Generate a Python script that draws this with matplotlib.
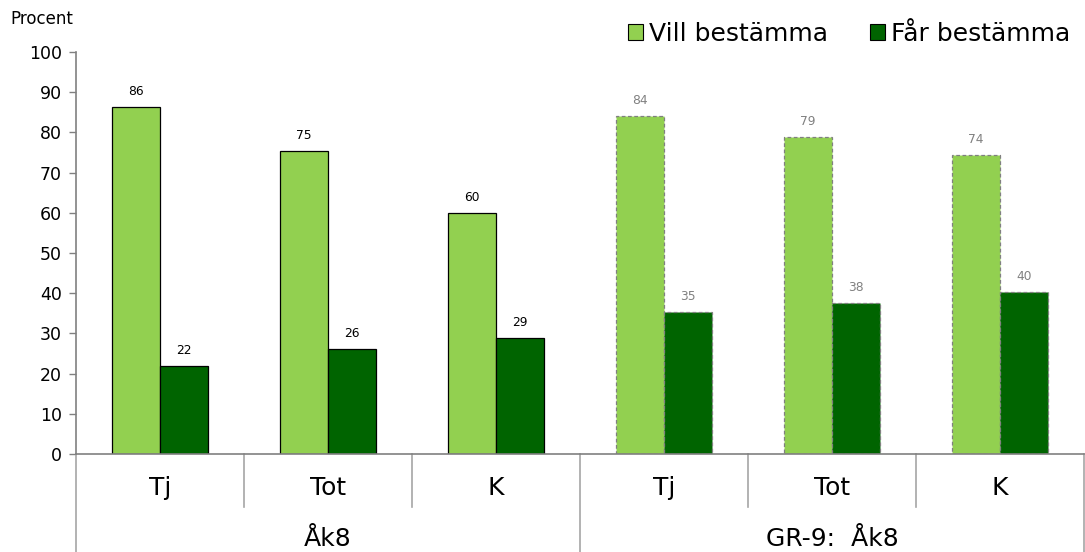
import matplotlib
matplotlib.use("Agg")
import matplotlib.pyplot as plt
from matplotlib.patches import Patch

plt.rcParams['font.family'] = ['DejaVu Sans']

groups = ["Åk8", "GR-9:  Åk8"]
categories = ["Tj", "Tot", "K", "Tj", "Tot", "K"]
series_names = ["Vill bestämma", "Får bestämma"]
vill = [86.4, 75.4, 60.0, 84.0, 78.8, 74.4]
far = [21.8, 26.0, 28.8, 35.4, 37.6, 40.2]
vill_labels = [86, 75, 60, 84, 79, 74]
far_labels = [22, 26, 29, 35, 38, 40]
yticks = [0, 10, 20, 30, 40, 50, 60, 70, 80, 90, 100]

light = "#92D050"
dark = "#006400"
gray = "#808080"

fig = plt.figure(figsize=(10.85, 5.52), dpi=100)
ax = fig.add_axes([76/1085, 98/552, 1008/1085, 402/552])

w = 0.286
n = len(categories)
for i in range(n):
    own = i < 3
    ec = "black" if own else gray
    ls = "-" if own else (0, (3, 2))
    lc = "black" if own else gray
    for val, lab, col, off in ((vill[i], vill_labels[i], light, -w/2),
                               (far[i], far_labels[i], dark, w/2)):
        ax.bar(i + off, val, width=w, color=col, edgecolor=ec,
               linewidth=0.9, linestyle=ls, zorder=2)
        ax.annotate(str(lab), (i + off, val), xytext=(0, 6.5),
                    textcoords="offset points", ha="center", va="bottom",
                    fontsize=8.8, color=lc)

ax.set_xlim(-0.5, n - 0.5)
ax.set_ylim(0, 100)
ax.set_yticks(yticks)
ax.set_yticklabels([str(t) for t in yticks], fontsize=12.5)
ax.tick_params(axis="y", color=gray, length=5, width=1, pad=5)
ax.set_xticks([])
for s in ("top", "right"):
    ax.spines[s].set_visible(False)
for s in ("left", "bottom"):
    ax.spines[s].set_color(gray)
    ax.spines[s].set_linewidth(1.2)

tr = ax.get_xaxis_transform()
sep_col = "#A6A6A6"
for b in range(1, n):
    if b % 3 == 0:
        continue
    ax.plot([b - 0.5, b - 0.5], [0, -0.132], transform=tr, color=sep_col,
            lw=1.2, clip_on=False)
for b in (0, 3):
    ax.plot([b - 0.5, b - 0.5], [0, -0.26], transform=tr, color=sep_col,
            lw=1.2, clip_on=False)
ax.plot([n - 0.5, n - 0.5], [0, -0.26], transform=tr, color=sep_col,
        lw=1.2, clip_on=False)

for i, c in enumerate(categories):
    ax.text(i, -0.085, c, transform=tr, ha="center", va="center", fontsize=18)
for g, name in enumerate(groups):
    ax.text(g * 3 + 1, -0.212, name, transform=tr, ha="center", va="center",
            fontsize=18)

fig.text(10/1085, 1 - 19/552, "Procent", fontsize=12, ha="left", va="center")

handles = [Patch(facecolor=light, edgecolor="black", linewidth=0.8),
           Patch(facecolor=dark, edgecolor="black", linewidth=0.8)]
fig.legend(handles, series_names, loc="upper right",
           bbox_to_anchor=(1070/1085, 1 - 22/552), ncol=2, frameon=False,
           fontsize=18, handlelength=0.6, handleheight=0.6,
           handletextpad=0.25, columnspacing=1.65, borderaxespad=0.0,
           borderpad=0.0)

fig.savefig("out.png", dpi=100)
